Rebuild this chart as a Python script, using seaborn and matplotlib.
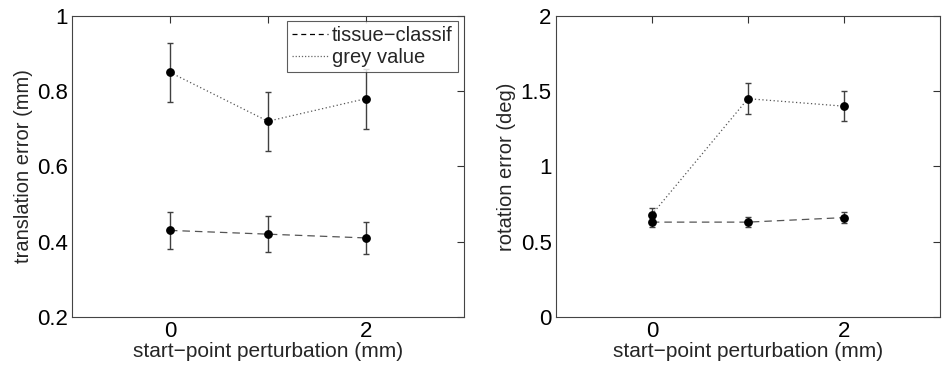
import matplotlib
matplotlib.use("Agg")
import matplotlib.pyplot as plt
import seaborn as sns
import pandas as pd
import numpy as np
from matplotlib.lines import Line2D

# ---- data ----
perturb = [0, 1, 2]
trans_tissue = [0.43, 0.42, 0.41]
trans_tissue_err = [0.049, 0.047, 0.043]
trans_grey = [0.85, 0.72, 0.78]
trans_grey_err = [0.078, 0.078, 0.080]
rot_tissue = [0.63, 0.63, 0.66]
rot_tissue_err = [0.033, 0.032, 0.038]
rot_grey = [0.68, 1.45, 1.40]
rot_grey_err = [0.045, 0.105, 0.10]
series_names = ["tissue\u2212classif", "grey value"]
xlabel = "start\u2212point perturbation (mm)"
ylabels = ["translation error (mm)", "rotation error (deg)"]
xticks = [0, 1, 2]
xticklabels = ["0", "", "2"]
yticks_left = [0.2, 0.4, 0.6, 0.8, 1.0]
yticklabels_left = ["0.2", "0.4", "0.6", "0.8", "1"]
yticks_right = [0, 0.5, 1.0, 1.5, 2.0]
yticklabels_right = ["0", "0.5", "1", "1.5", "2"]

sns.set_style("white")
plt.rcParams["font.family"] = ["Liberation Sans", "DejaVu Sans"]
plt.rcParams["font.size"] = 13

fig = plt.figure(figsize=(9.42, 3.69), dpi=100)
axL = fig.add_axes([0.0764, 0.141, 0.416, 0.816])
axR = fig.add_axes([0.590, 0.141, 0.408, 0.816])

line_col = "#555555"
err_col = "#404040"


def draw(ax, t, te, g, ge, ylim, yt, ytl, ylab, legend):
    df = pd.DataFrame({
        "x": perturb * 2,
        "y": t + g,
        "series": [series_names[0]] * 3 + [series_names[1]] * 3,
    })
    sns.lineplot(data=df, x="x", y="y", style="series", ax=ax,
                 color=line_col, linewidth=0.9,
                 dashes={series_names[0]: (6, 4), series_names[1]: (1, 2)},
                 legend=False)
    for vals, errs in ((t, te), (g, ge)):
        ax.errorbar(perturb, vals, yerr=errs, fmt="none", ecolor=err_col,
                    elinewidth=1.0, capsize=2.5, capthick=1.0, zorder=3)
        ax.plot(perturb, vals, "o", color="black", markersize=5.3, zorder=4)
    ax.set_xlim(-1, 3)
    ax.set_ylim(*ylim)
    ax.set_xticks(xticks)
    ax.set_xticklabels(xticklabels)
    ax.set_yticks(yt)
    ax.set_yticklabels(ytl)
    ax.set_xlabel(xlabel, fontsize=15, labelpad=0)
    ax.set_ylabel(ylab, fontsize=14.5, labelpad=3)
    ax.tick_params(direction="in", length=5, width=0.8, top=True, right=True,
                   labelsize=16, colors="#333333", labelcolor="black", pad=3)
    for s in ax.spines.values():
        s.set_color("#444444")
        s.set_linewidth(0.8)
    if legend:
        h = [Line2D([], [], color="black", linewidth=0.9, dashes=(4, 3)),
             Line2D([], [], color="#666666", linewidth=0.9, dashes=(1, 1.5))]
        leg = ax.legend(h, series_names, loc="upper right",
                        bbox_to_anchor=(0.985, 0.984), fontsize=14.5,
                        frameon=True, fancybox=False, handlelength=1.8,
                        handletextpad=0.2, borderpad=0.25, labelspacing=0.15,
                        borderaxespad=0.0)
        leg.get_frame().set_edgecolor("#333333")
        leg.get_frame().set_linewidth(0.8)


draw(axL, trans_tissue, trans_tissue_err, trans_grey, trans_grey_err,
     (0.2, 1.0), yticks_left, yticklabels_left, ylabels[0], True)
draw(axR, rot_tissue, rot_tissue_err, rot_grey, rot_grey_err,
     (0, 2), yticks_right, yticklabels_right, ylabels[1], False)

fig.savefig("out.png", dpi=100)
